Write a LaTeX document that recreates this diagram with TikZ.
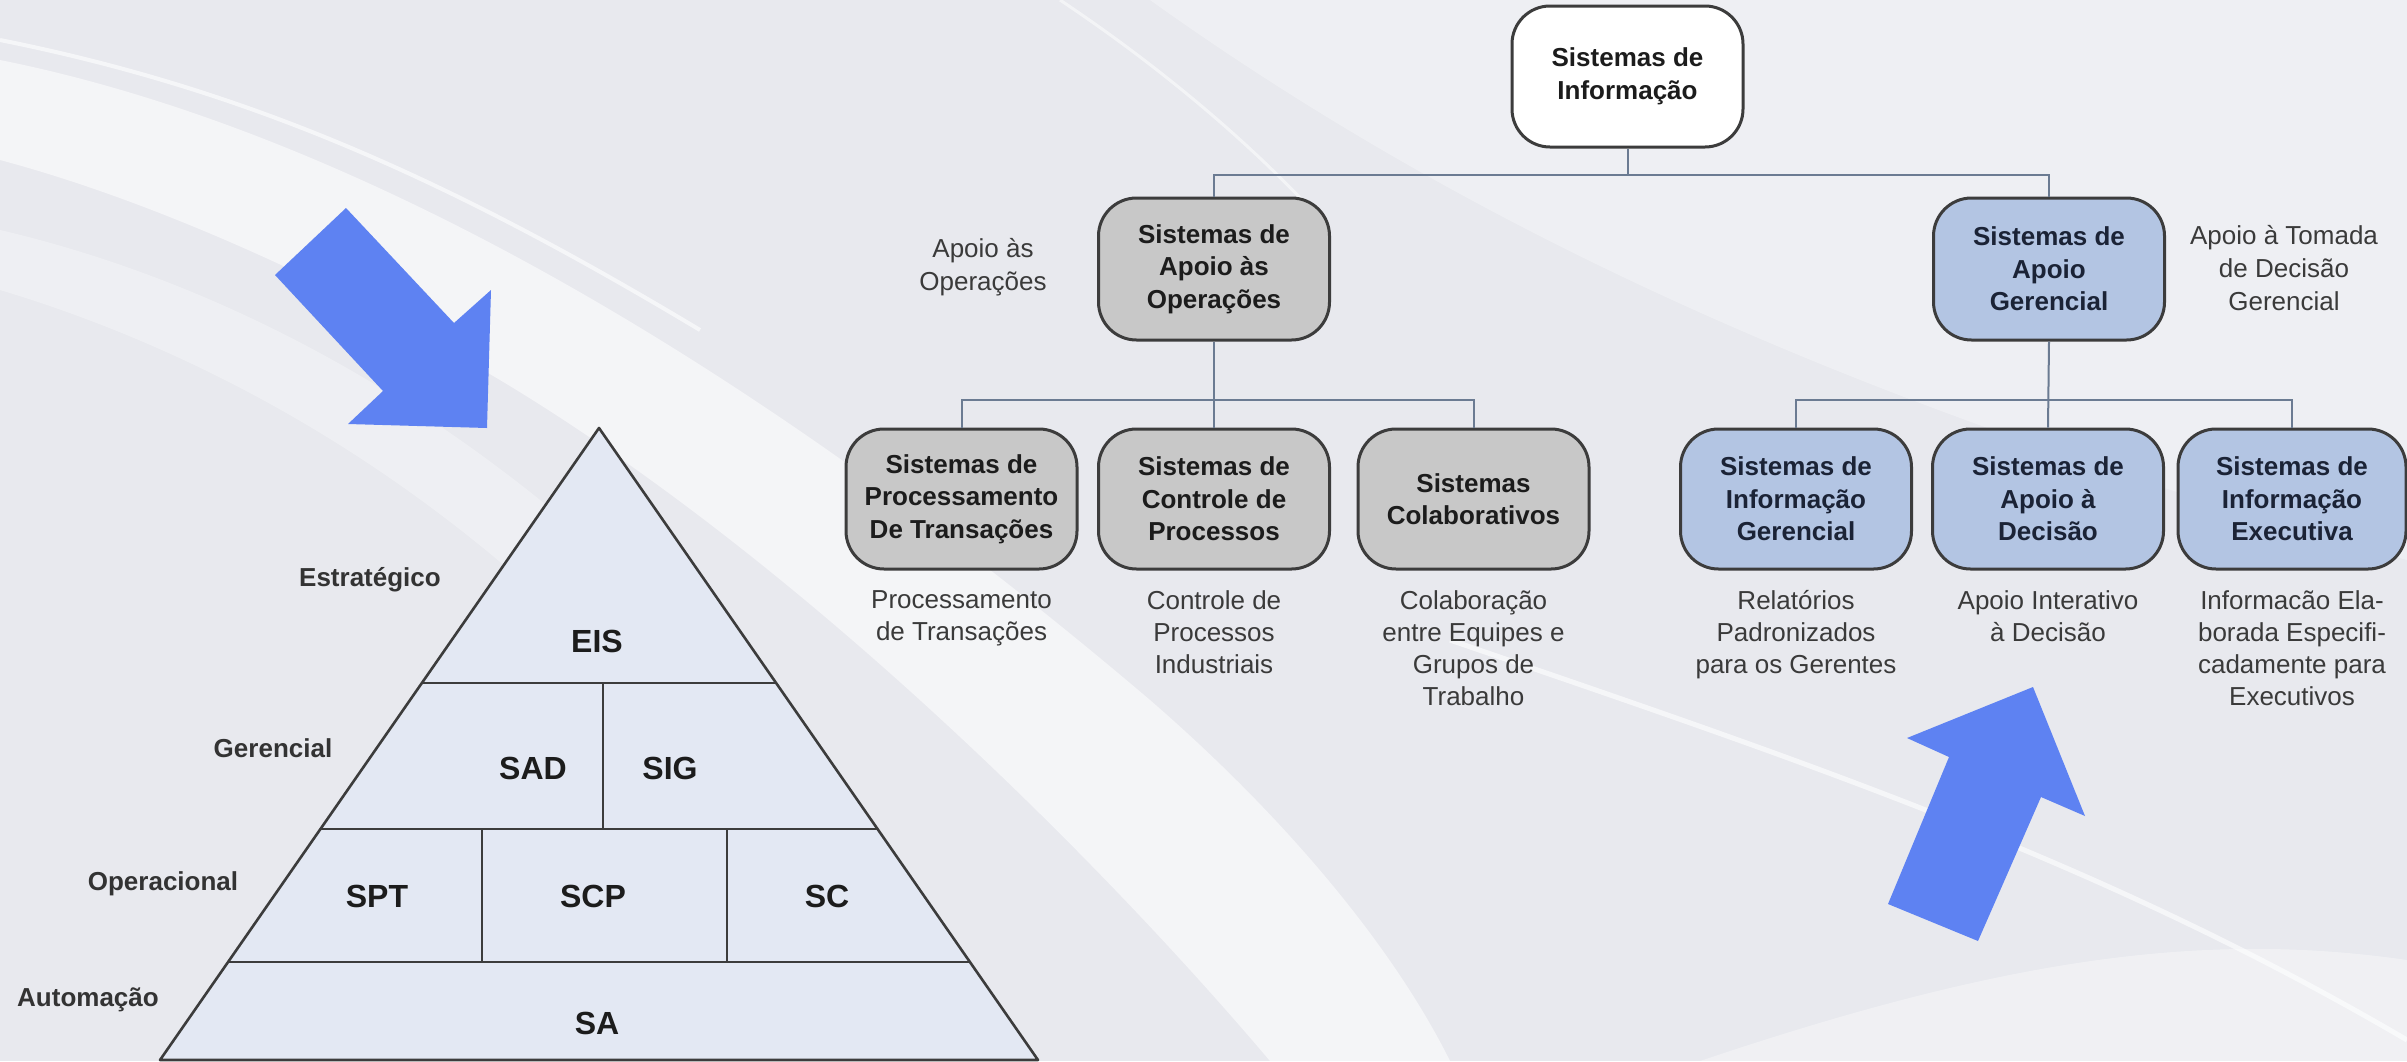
\documentclass[tikz,border=0pt]{standalone}
\usepackage{fontspec}
\setmainfont{Liberation Sans}
\usetikzlibrary{calc}
\definecolor{bgc}{HTML}{E8E9EE}
\definecolor{greyfill}{HTML}{C8C8C8}
\definecolor{bluefill}{HTML}{B3C5E3}
\definecolor{boxline}{HTML}{3C3C3C}
\definecolor{greytext}{HTML}{1C1C1C}
\definecolor{bluetext}{HTML}{1B2336}
\definecolor{desctext}{HTML}{3A3A3A}
\definecolor{connc}{HTML}{6B7B92}
\definecolor{pyrfill}{HTML}{E3E8F3}
\definecolor{arrowc}{HTML}{5E82F2}
\tikzset{
  box/.style={draw=boxline, line width=3pt, rounded corners=38pt, minimum width=231pt,
    minimum height=140pt, align=center, inner sep=0pt,
    font=\fontsize{26}{32.5}\selectfont\bfseries},
  greybox/.style={box, fill=greyfill, text=greytext},
  bluebox/.style={box, fill=bluefill, text=bluetext},
  whitebox/.style={box, fill=white, text=greytext},
  desc/.style={align=center, inner sep=0pt, anchor=north, text=desctext,
    font=\fontsize{26}{32}\selectfont},
  side/.style={align=center, inner sep=0pt, text=desctext,
    font=\fontsize{26}{33}\selectfont},
  conn/.style={draw=connc, line width=2pt},
  pyr/.style={draw=boxline, line width=2.6pt, line join=round},
  pyrlabel/.style={inner sep=0pt, text=greytext, font=\fontsize{32}{38}\selectfont\bfseries},
  level/.style={inner sep=0pt, text=greytext!90, font=\fontsize{26}{32}\selectfont\bfseries},
  bigarrow/.style={fill=arrowc, draw=none},
  swoosh/.style={fill=white, draw=none}
}
\begin{document}
\begin{tikzpicture}[x=1pt,y=-1pt]
% background
\fill[bgc] (0,0) rectangle (2407,1061);
\useasboundingbox (0,0) rectangle (2407,1061);
\fill[white, opacity=0.3] (1150,0) -- (2407,0) -- (2407,560) .. controls (1900,420) and (1500,250) .. (1150,0) -- cycle;
\fill[swoosh, opacity=0.55] (0,60) .. controls (350,130) and (750,360) .. (1150,700)
   .. controls (1300,830) and (1400,960) .. (1450,1061) -- (1270,1061)
   .. controls (1100,860) and (800,560) .. (500,380) .. controls (330,280) and (150,200) .. (0,160) -- cycle;
\fill[swoosh, opacity=0.3] (0,230) .. controls (300,300) and (700,520) .. (1000,1061) -- (900,1061)
   .. controls (650,600) and (300,380) .. (0,290) -- cycle;
\draw[white, line width=4pt, opacity=0.6] (0,40) .. controls (250,90) and (450,180) .. (700,330);
\draw[white, line width=5pt, opacity=0.6] (1450,640) .. controls (1800,760) and (2100,860) .. (2407,1040);
\fill[swoosh, opacity=0.35] (1700,1061) .. controls (2000,960) and (2200,930) .. (2407,960) -- (2407,1061) -- cycle;
\draw[white, line width=3pt, opacity=0.5] (1060,0) .. controls (1150,60) and (1250,140) .. (1330,230);

% ---------- pyramid ----------
\coordinate (apex) at (599,428);
\coordinate (bl) at (160,1060);
\coordinate (br) at (1038,1060);
\fill[pyrfill] (apex) -- (bl) -- (br) -- cycle;
\draw[pyr] (422,683) -- (776,683);
\draw[pyr] (320,829) -- (877.5,829);
\draw[pyr] (228,962) -- (970,962);
\draw[pyr] (603,683) -- (603,829);
\draw[pyr] (482,829) -- (482,962);
\draw[pyr] (727,829) -- (727,962);
\draw[pyr] (apex) -- (bl) -- (br) -- cycle;

\node[pyrlabel] (pEIS) at (597,641) {EIS};
\node[pyrlabel] (pSAD) at (533,768) {SAD};
\node[pyrlabel] (pSIG) at (670,768) {SIG};
\node[pyrlabel] (pSPT) at (377,896) {SPT};
\node[pyrlabel] (pSCP) at (593,896) {SCP};
\node[pyrlabel] (pSC) at (827,896) {SC};
\node[pyrlabel] (pSA) at (597,1023) {SA};

\node[level] (lEst) at (370,580) {Estratégico};
\node[level] (lGer) at (273,748) {Gerencial};
\node[level] (lOpe) at (163,884) {Operacional};
\node[level] (lAut) at (88,1000) {Automação};

% ---------- big arrows ----------
\fill[bigarrow] (346,208) -- (275,275) -- (383,391) -- (348,424) -- (487,428) -- (491,290) -- (454,323) -- cycle;
\fill[bigarrow] (2033,687) -- (1907,738) -- (1949,757) -- (1888,904) -- (1978,941) -- (2041,797) -- (2085,816) -- cycle;

% ---------- tree ----------
\node[whitebox, minimum height=141pt] (si) at (1627.5,76.5) {Sistemas de\\Informação};
\node[greybox, minimum height=142pt] (ops) at (1214,269) {Sistemas de\\Apoio às\\Operações};
\node[bluebox, minimum height=142pt] (ger) at (2049,269) {Sistemas de\\Apoio\\Gerencial};

\node[greybox] (spt) at (961.5,499) {Sistemas de\\Processamento\\De Transações};
\node[greybox] (scp) at (1214,499) {Sistemas de\\Controle de\\Processos};
\node[greybox] (sc) at (1473.5,499) {Sistemas\\Colaborativos};
\node[bluebox] (sig) at (1796,499) {Sistemas de\\Informação\\Gerencial};
\node[bluebox] (sad) at (2048,499) {Sistemas de\\Apoio à\\Decisão};
\node[bluebox, minimum width=228pt] (eis) at (2292,499) {Sistemas de\\Informação\\Executiva};

\coordinate (bus1) at (0,175);
\coordinate (bus2) at (0,400);
\draw[conn] (si.south) -- (si.south |- bus1);
\draw[conn] (ops.north) |- (ger.north |- bus1) -- (ger.north);
\draw[conn] (ops.south) -- (scp.north);
\draw[conn] (spt.north) |- (sc.north |- bus2) -- (sc.north);
\draw[conn] (ger.south) -- (sad.north);
\draw[conn] (sig.north) |- (eis.north |- bus2) -- (eis.north);

% side labels
\node[side] (lop) at (983,267) {Apoio às\\Operações};
\node[side] (lge) at (2284,268) {Apoio à Tomada\\de Decisão\\Gerencial};

% descriptions
\node[desc] (dspt) at (961.5,590) {Processamento\\de Transações};
\node[desc] (dscp) at (1214,590) {Controle de\\Processos\\Industriais};
\node[desc] (dsc) at (1473.5,590) {Colaboração\\entre Equipes e\\Grupos de\\Trabalho};
\node[desc] (dsig) at (1796,590) {Relatórios\\Padronizados\\para os Gerentes};
\node[desc] (dsad) at (2048,590) {Apoio Interativo\\à Decisão};
\node[desc] (deis) at (2292,590) {Informacão Ela-\\borada Especifi-\\cadamente para\\Executivos};
\end{tikzpicture}
\end{document}
